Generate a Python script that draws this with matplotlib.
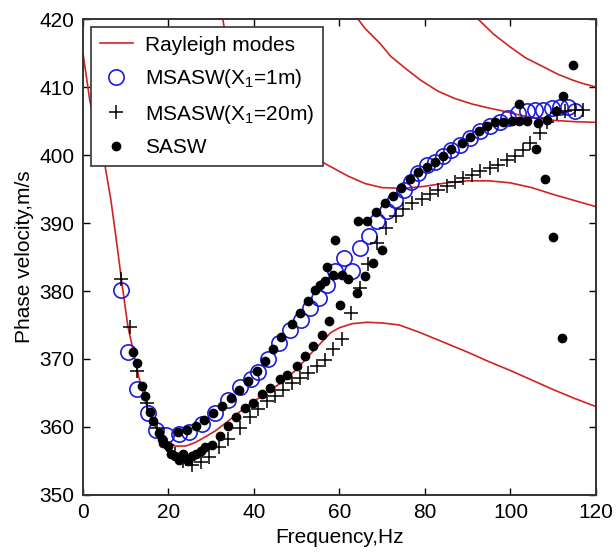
import matplotlib
matplotlib.use("Agg")
import matplotlib.pyplot as plt

# Rayleigh mode dispersion curves (frequency Hz, phase velocity m/s)
mode1_f = [0, 1.6, 3, 5, 6.5, 7.7, 9.1, 10.5, 11.7, 13, 14.5, 16, 17.3, 19, 21.5, 24, 26.2, 28.5,
           30.9, 34, 37.4, 41, 44, 46.8, 50, 53, 56, 58, 60, 63, 66.4, 70, 74, 78.8, 85, 90, 95,
           100, 105, 110, 115, 120]
mode1_v = [415, 408, 404, 399, 393.5, 388, 381.2, 374.8, 371.4, 367.5, 364.0, 361.3, 359.6, 358.2,
           357.2, 357.2, 357.7, 358.5, 359.4, 360.9, 362.6, 364.2, 365.5, 366.7, 368.5, 370.6,
           372.6, 373.9, 374.6, 375.2, 375.4, 375.3, 375.0, 373.9, 372.3, 371.0, 369.6, 368.3,
           366.9, 365.5, 364.2, 363.0]
mode2_f = [32.7, 33.5, 35, 37, 40, 44, 48, 52, 57, 62, 66, 70, 75, 80, 85, 90, 95, 100, 105, 110,
           115, 120]
mode2_v = [420, 417, 413.5, 410.5, 407.5, 404.5, 402.3, 400.5, 398.6, 396.9, 395.8, 395.2, 395.1,
           395.4, 395.9, 396.2, 396.2, 395.9, 395.2, 394.2, 393.3, 392.4]
mode3_f = [64.3, 66, 69.5, 72, 75.7, 79, 83, 87, 91, 95, 98, 102, 106, 110, 115, 120]
mode3_v = [420, 418.6, 416.4, 414.5, 412.6, 411, 409.4, 408.3, 407.5, 406.9, 406.5, 405.9, 405.4,
           405.1, 404.9, 404.8]
mode4_f = [92.4, 96, 99.9, 103.5, 107.6, 111, 114.6, 117, 120]
mode4_v = [420, 417.8, 415.9, 414.3, 413.0, 411.9, 411.0, 410.5, 410.0]

# MSASW, X1 = 1 m
ms1_f = [8.8, 10.6, 12.7, 15.1, 17.1, 19.4, 22.5, 24.8, 27.9, 30.8, 34.0, 36.8, 39.4, 41.0, 43.2,
         45.8, 48.5, 51.0, 53.1, 55.2, 57.0, 59.0, 61.0, 63.0, 64.8, 66.8, 68.8, 71.0, 73.0, 75.0,
         76.7, 78.3, 80.4, 82.3, 84.3, 86.2, 88.2, 90.5, 92.9, 95.2, 97.5, 99.5, 101.8, 103.8,
         105.7, 107.7, 109.6, 111.6, 113.5, 115.1]
ms1_v = [380.1, 371.1, 365.6, 362.0, 359.6, 358.8, 358.9, 359.2, 360.4, 362.0, 364.0, 365.9, 367.0,
         368.1, 370.0, 372.4, 374.2, 375.7, 377.5, 379.0, 380.9, 382.9, 384.9, 382.9, 386.3, 388.1,
         390.3, 391.8, 393.4, 394.8, 396.0, 397.3, 398.5, 399.0, 399.8, 400.8, 401.5, 402.5, 403.5,
         404.2, 404.9, 405.4, 406.2, 406.4, 406.6, 406.6, 406.9, 407.1, 407.1, 406.4]

# MSASW, X1 = 20 m
ms20_f = [8.8, 11.0, 12.7, 14.9, 17.2, 19.6, 21.5, 23.5, 25.5, 27.5, 29.5, 31.8, 34.0, 36.7, 39.1,
          41.0, 43.0, 44.9, 46.9, 48.8, 50.8, 52.7, 54.7, 56.6, 58.6, 60.5, 62.8, 64.7, 66.7, 68.7,
          70.9, 73.2, 74.9, 77.0, 79.4, 81.2, 83.1, 85.1, 87.1, 89.0, 91.0, 92.9, 95.2, 97.1, 99.1,
          101.1, 103.0, 104.6, 106.9, 108.5, 110.8, 112.7, 115.1, 117.0]
ms20_v = [381.8, 374.7, 368.2, 363.6, 359.9, 357.4, 356.0, 355.0, 354.4, 354.8, 355.6, 357.0, 358.2,
          359.9, 361.4, 362.6, 363.8, 364.5, 365.5, 366.5, 367.2, 368.0, 369.0, 369.9, 371.4, 372.9,
          376.8, 380.5, 383.9, 387.1, 389.3, 391.0, 392.0, 392.9, 393.5, 394.2, 394.9, 395.5, 396.0,
          396.6, 397.1, 397.6, 398.1, 398.6, 399.3, 399.8, 400.8, 401.7, 403.2, 404.9, 406.2, 406.4,
          406.6, 406.6]

# SASW
sasw_f = [11.6, 12.6, 13.7, 14.5, 15.7, 16.4, 17.9, 18.4, 18.8, 19.9, 20.6, 21.5, 22.5, 23.5, 24.5,
          25.5, 26.5, 27.5, 28.5, 30.1, 22.3, 24.3, 26.4, 28.3, 30.5, 32.5, 34.6, 36.5, 38.7, 40.6,
          42.6, 44.4, 46.3, 48.8, 50.8, 52.7, 54.2, 55.4, 56.6, 57.0, 58.5, 59.0, 60.5, 62.0, 64.0,
          60.1, 66.0, 67.9, 69.9, 64.4, 66.5, 68.6, 70.6, 72.5, 74.4, 76.4, 78.3, 80.4, 82.3, 84.3,
          86.2, 88.6, 90.5, 92.7, 94.4, 96.4, 98.3, 100.3, 102.1, 103.8, 101.9, 106.5, 108.5, 110.6,
          106.0, 108.0, 109.9, 112.0, 112.3, 114.6,
          32.0, 34.0, 35.9, 37.9, 39.8, 41.8, 43.7, 46.1, 47.8, 50.0, 52.0, 53.9, 55.8, 57.6]
sasw_v = [371.1, 369.4, 366.0, 364.5, 362.2, 360.9, 359.1, 358.2, 357.7, 357.2, 356.0, 355.8, 355.2,
          356.0, 355.0, 355.8, 356.0, 356.5, 357.0, 357.4, 359.2, 359.6, 360.2, 361.0, 362.1, 363.1,
          364.2, 365.5, 366.7, 368.2, 369.7, 371.4, 373.3, 375.1, 376.8, 378.5, 380.2, 380.9, 381.4,
          383.6, 382.4, 387.5, 382.4, 381.7, 379.7, 378.0, 382.2, 384.1, 386.1, 390.3, 390.3, 391.6,
          392.9, 393.9, 395.1, 396.4, 397.5, 398.3, 399.0, 399.8, 400.9, 401.8, 402.6, 403.6, 404.2,
          404.8, 404.9, 405.0, 405.0, 405.0, 407.5, 404.7, 405.2, 406.4, 400.9, 396.4, 387.9, 373.1,
          408.7, 413.2,
          358.7, 360.1, 361.4, 362.8, 363.6, 364.8, 365.8, 367.0, 367.7, 369.0, 370.4, 371.9, 373.6,
          375.6]

plt.rcParams['font.family'] = ['Liberation Sans', 'DejaVu Sans']
plt.rcParams['mathtext.fontset'] = 'custom'
plt.rcParams['mathtext.rm'] = 'Liberation Sans'
plt.rcParams['mathtext.it'] = 'Liberation Sans:italic'

fig = plt.figure(figsize=(6.16, 5.54), dpi=100)
ax = fig.add_axes([0.1347, 0.1065, 0.8328, 0.8592])

red = '#d02424'
ax.plot(mode1_f, mode1_v, color=red, lw=1.2, label='Rayleigh modes', zorder=2)
ax.plot(mode2_f, mode2_v, color=red, lw=1.2, zorder=2)
ax.plot(mode3_f, mode3_v, color=red, lw=1.2, zorder=2)
ax.plot(mode4_f, mode4_v, color=red, lw=1.2, zorder=2)

ax.plot(ms1_f, ms1_v, 'o', mfc='none', mec='#1c1ce0', mew=1.2, ms=11,
        label='MSASW(X$_1$=1m)', zorder=3)
ax.plot(ms20_f, ms20_v, '+', color='black', mew=1.1, ms=10,
        label='MSASW(X$_1$=20m)', zorder=3)
ax.plot(sasw_f, sasw_v, 'o', color='black', ms=6, label='SASW', zorder=4)

ax.set_xlim(0, 120)
ax.set_ylim(350, 420)
ax.set_xticks(range(0, 121, 20))
ax.set_yticks(range(350, 421, 10))
ax.tick_params(direction='in', length=5, width=1.0, top=True, right=True,
               labelsize=15, pad=6)
for s in ax.spines.values():
    s.set_linewidth(1.4)
    s.set_color('#333333')

ax.set_xlabel('Frequency,Hz', fontsize=15, labelpad=4)
ax.set_ylabel('Phase velocity,m/s', fontsize=15, labelpad=4)

leg = ax.legend(loc='upper left', fontsize=15, frameon=True, fancybox=False,
                framealpha=1, edgecolor='#333333', handlelength=1.6,
                handletextpad=0.6, labelspacing=0.6, borderpad=0.4,
                borderaxespad=0.4)
leg.get_frame().set_linewidth(1.2)
leg.set_zorder(10)

fig.savefig('out.png', dpi=100)
